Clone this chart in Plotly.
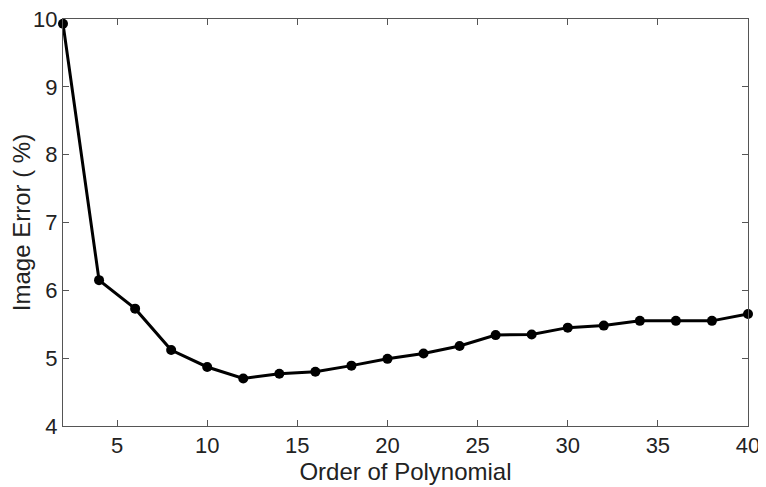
import plotly.graph_objects as go

orders = [2, 4, 6, 8, 10, 12, 14, 16, 18, 20, 22, 24, 26, 28, 30, 32, 34, 36, 38, 40]
errors = [9.93, 6.15, 5.73, 5.12, 4.87, 4.70, 4.77, 4.80, 4.89, 4.99, 5.07, 5.18, 5.34, 5.35, 5.45, 5.48, 5.55, 5.55, 5.55, 5.65]
x_ticks = [5, 10, 15, 20, 25, 30, 35, 40]
y_ticks = [4, 5, 6, 7, 8, 9, 10]

FONT = "Liberation Sans, Arial"
fig = go.Figure(go.Scatter(
    x=orders, y=errors, mode="lines+markers",
    line=dict(color="black", width=3),
    marker=dict(color="black", size=10),
    cliponaxis=False,
))

axis_common = dict(
    showline=True, linecolor="#555555", linewidth=1, mirror="ticks",
    ticks="inside", ticklen=6, tickcolor="#555555", showgrid=False, zeroline=False,
    automargin=False, ticklabeloverflow="allow",
    tickfont=dict(family=FONT, size=22, color="#222222"),
)
fig.update_xaxes(range=[2, 40], tickvals=x_ticks,
                 title=dict(text="Order of Polynomial", standoff=0,
                            font=dict(family=FONT, size=24, color="#222222")),
                 **axis_common)
fig.update_yaxes(range=[4, 10], tickvals=y_ticks,
                 title=dict(text="Image Error ( %)", standoff=6,
                            font=dict(family=FONT, size=24, color="#222222")),
                 **axis_common)
# the page body has an 8px default margin, so the figure is sized to fit
fig.update_layout(
    width=758, height=479,
    margin=dict(l=55, r=18, t=11, b=61),
    plot_bgcolor="white", paper_bgcolor="white",
    showlegend=False,
)
fig.write_html("out.html")
